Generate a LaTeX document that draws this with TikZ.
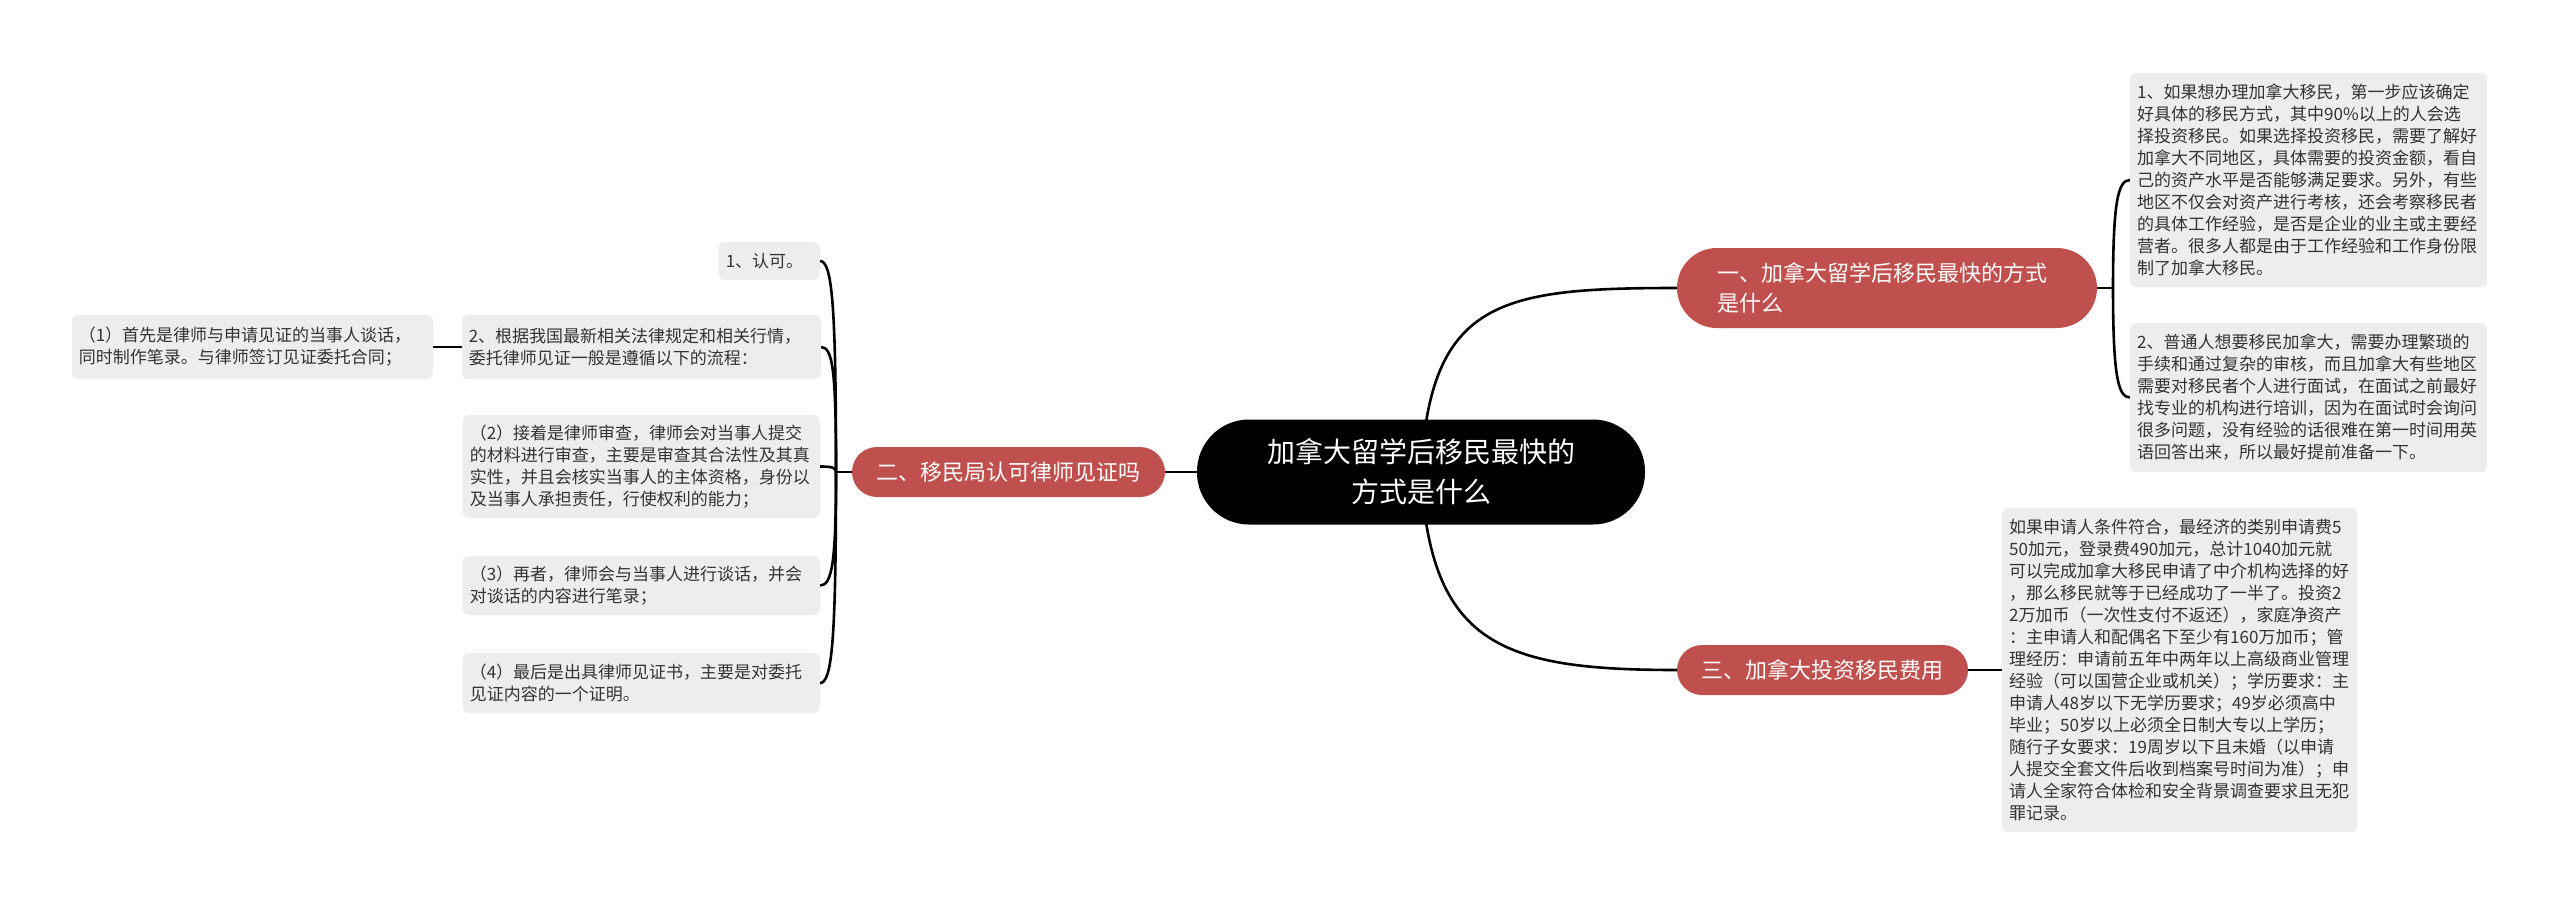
\documentclass[tikz,border=0pt]{standalone}
\usepackage{fontspec}
\setmainfont{Noto Sans CJK SC}
\usepackage{xcolor}
\usepackage{tikz}
\usetikzlibrary{calc}
\usetikzlibrary{backgrounds}
\definecolor{branchred}{RGB}{192,80,77}
\colorlet{rootcolor}{black}
\colorlet{leafcolor}{black!7}
\colorlet{leaftext}{black!80}
\colorlet{linkcolor}{black}
\tikzset{
	root/.style={
		,rectangle
		,fill			= rootcolor
		,text			= white
		,rounded corners	= 52pt
		,minimum width	= 448pt
		,minimum height	= 105pt
		,align			= center
		,font			= \fontsize{28}{40}\selectfont
	}
	,branch/.style={
		,rectangle
		,fill			= branchred
		,text			= white
		,rounded corners	= 25pt
		,minimum height	= 50pt
		,font			= \fontsize{22}{30}\selectfont
	}
	,leaf/.style={
		,rectangle
		,fill			= leafcolor
		,text			= leaftext
		,rounded corners	= 6pt
		,inner xsep		= 7pt
		,inner ysep		= 0pt
		,align			= left
		,font			= \fontsize{17}{22}\selectfont
	}
	,link/.style	= {draw = linkcolor, line width = 2.6pt}
}

\begin{document}
\begin{tikzpicture}[x=1pt, y=-1pt]

	\useasboundingbox (0,0) rectangle (2560,905);

	% the root and the branches
	\node[root] (root) at (1421,472) {加拿大留学后移民最快的\\方式是什么};
	\node[branch, minimum width=420pt, minimum height=80pt, rounded corners=40pt,
		text width=340pt, align=left] (b1) at (1887,288)
		{一、加拿大留学后移民最快的方式\\是什么};
	\node[branch, minimum width=313pt] (b2) at (1008.5,472) {二、移民局认可律师见证吗};
	\node[branch, minimum width=291pt] (b3) at (1822.5,670) {三、加拿大投资移民费用};

	% the right leaves
	\node[leaf, anchor=west, text width=343pt, minimum height=214pt] (r1) at (2130,180) {%
		1、如果想办理加拿大移民，第一步应该确定\\
		好具体的移民方式，其中90\%以上的人会选\\
		择投资移民。如果选择投资移民，需要了解好\\
		加拿大不同地区，具体需要的投资金额，看自\\
		己的资产水平是否能够满足要求。另外，有些\\
		地区不仅会对资产进行考核，还会考察移民者\\
		的具体工作经验，是否是企业的业主或主要经\\
		营者。很多人都是由于工作经验和工作身份限\\
		制了加拿大移民。};
	\node[leaf, anchor=west, text width=343pt, minimum height=149pt] (r2) at (2130,397.5) {%
		2、普通人想要移民加拿大，需要办理繁琐的\\
		手续和通过复杂的审核，而且加拿大有些地区\\
		需要对移民者个人进行面试，在面试之前最好\\
		找专业的机构进行培训，因为在面试时会询问\\
		很多问题，没有经验的话很难在第一时间用英\\
		语回答出来，所以最好提前准备一下。};
	\node[leaf, anchor=west, text width=341pt, minimum height=324pt] (r3) at (2002,670) {%
		如果申请人条件符合，最经济的类别申请费5\\
		50加元，登录费490加元，总计1040加元就\\
		可以完成加拿大移民申请了中介机构选择的好\\
		，那么移民就等于已经成功了一半了。投资2\\
		2万加币（一次性支付不返还），家庭净资产\\
		：主申请人和配偶名下至少有160万加币；管\\
		理经历：申请前五年中两年以上高级商业管理\\
		经验（可以国营企业或机关）；学历要求：主\\
		申请人48岁以下无学历要求；49岁必须高中\\
		毕业；50岁以上必须全日制大专以上学历；\\
		随行子女要求：19周岁以下且未婚（以申请\\
		人提交全套文件后收到档案号时间为准）；申\\
		请人全家符合体检和安全背景调查要求且无犯\\
		罪记录。};

	% the left leaves
	\node[leaf, anchor=east, text width=87pt, minimum height=38pt] (l1) at (820,261) {1、认可。};
	\node[leaf, anchor=east, text width=345pt, minimum height=64pt] (l2) at (821,347) {%
		2、根据我国最新相关法律规定和相关行情，\\
		委托律师见证一般是遵循以下的流程：};
	\node[leaf, anchor=east, text width=347pt, minimum height=64pt] (l2a) at (433,347) {%
		（1）首先是律师与申请见证的当事人谈话，\\
		同时制作笔录。与律师签订见证委托合同；};
	\node[leaf, anchor=east, text width=343pt, minimum height=103pt] (l3) at (820,466.5) {%
		（2）接着是律师审查，律师会对当事人提交\\
		的材料进行审查，主要是审查其合法性及其真\\
		实性，并且会核实当事人的主体资格，身份以\\
		及当事人承担责任，行使权利的能力；};
	\node[leaf, anchor=east, text width=343pt, minimum height=59pt] (l4) at (820,585.5) {%
		（3）再者，律师会与当事人进行谈话，并会\\
		对谈话的内容进行笔录；};
	\node[leaf, anchor=east, text width=343pt, minimum height=60pt] (l5) at (820,683) {%
		（4）最后是出具律师见证书，主要是对委托\\
		见证内容的一个证明。};

	\coordinate (lsp) at (836,472);
	\coordinate (rsp) at (2113,288);

	% the links
	\begin{scope}[on background layer]
		\draw[link] (root.center) .. controls (1430,300) and (1500,288) .. (b1.west);
		\draw[link] (root.center) -- (b2.east);
		\draw[link] (root.center) .. controls (1430,644) and (1500,670) .. (b3.west);

		\draw[link] (b1.east) -- (rsp);
		\foreach \n in {r1,r2}{
			\draw[link] (rsp) .. controls ($(rsp)!0.8!(rsp |- \n.west)$)
				and ($(\n.west)+(-12,0)$) .. (\n.west);
		}
		\draw[link] (b3.east) -- (r3.west);

		\draw[link] (b2.west) -- (lsp);
		\foreach \n in {l1,l2,l3,l4,l5}{
			\draw[link] (lsp) .. controls ($(lsp)!0.8!(lsp |- \n.east)$)
				and ($(\n.east)+(12,0)$) .. (\n.east);
		}
		\draw[link] (l2.west) -- (l2a.east);
	\end{scope}
\end{tikzpicture}
\end{document}
